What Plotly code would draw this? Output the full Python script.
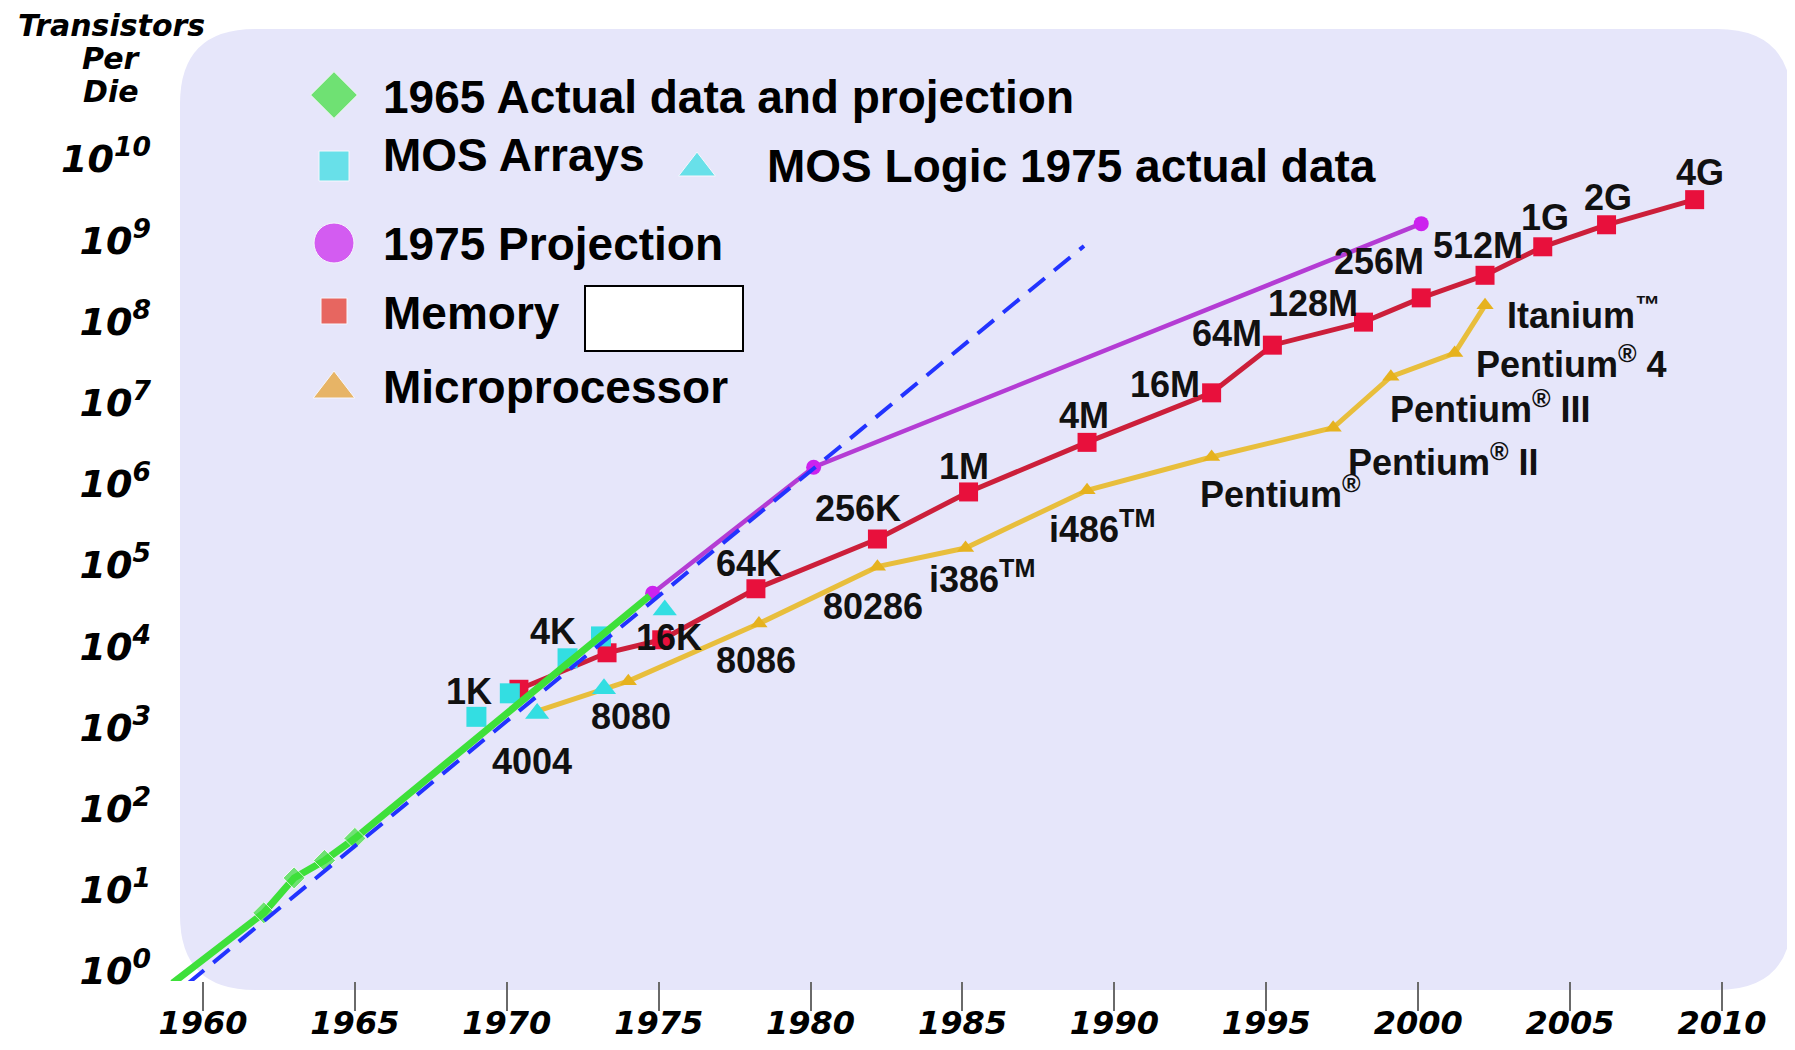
import math
import plotly.graph_objects as go

# ---------------- data ----------------
green_years = [1959.0, 1962.0, 1963.0, 1964.0, 1965.0, 1974.7]
green_counts = [0.71, 5.2, 14, 23, 43, 41700]
green_has_marker = [True, True, True, True, True, False]

trend_years = [1959.5, 1989.0]
trend_counts = [0.7, 8.5e8]

proj75_years = [1974.8, 1980.1, 2000.1]
proj75_counts = [45000, 1.6e6, 1.6e9]

mos_array_years = [1969.0, 1970.1, 1972.0, 1973.1]
mos_array_counts = [1350, 2630, 7100, 13200]

mos_logic_years = [1971.0, 1973.2, 1975.2]
mos_logic_counts = [1480, 3000, 28000]

memory_years = [1970.4, 1973.3, 1975.1, 1978.2, 1982.2, 1985.2, 1989.1, 1993.2,
                1995.2, 1998.2, 2000.1, 2002.2, 2004.1, 2006.2, 2009.1]
memory_counts = [2950, 8300, 12000, 51000, 209000, 794000, 3.24e6, 1.32e7,
                 5.1e7, 9.8e7, 1.95e8, 3.7e8, 8.3e8, 1.55e9, 3.16e9]
memory_labels = ["1K", "4K", "16K", "64K", "256K", "1M", "4M", "16M",
                 "64M", "128M", "256M", "512M", "1G", "2G", "4G"]

cpu_years = [1971.0, 1974.0, 1978.3, 1982.2, 1985.1, 1989.1, 1993.2, 1997.2,
             1999.1, 2001.2, 2002.2]
cpu_counts = [1585, 3715, 19000, 95500, 162000, 832000, 2.14e6, 4.9e6,
              2.09e7, 4.07e7, 1.58e8]
cpu_labels = ["4004", "8080", "8086", "80286", "i386<sup>TM</sup>", "i486<sup>TM</sup>",
              "Pentium<sup>®</sup>", "Pentium<sup>®</sup> II", "Pentium<sup>®</sup> III",
              "Pentium<sup>®</sup> 4", "Itanium<sup>™</sup>"]

x_tick_years = [1960, 1965, 1970, 1975, 1980, 1985, 1990, 1995, 2000, 2005, 2010]
y_tick_powers = [0, 1, 2, 3, 4, 5, 6, 7, 8, 9, 10]

legend_texts = ["1965 Actual data and projection", "MOS Arrays",
                "MOS Logic 1975 actual data", "1975 Projection", "Memory",
                "Microprocessor"]
y_title_lines = ["Transistors", "Per", "Die"]

# ---------------- layout / style ----------------
OFF = 8                      # page body margin
W, H = 1795 - 2 * OFF, 1050 - 2 * OFF
# plot area in viewport pixels
PX_L, PX_R, PX_T, PX_B = 160, 1785, 30, 981
X_RANGE = [1958.585, 2012.074]
Y_RANGE = [-0.123, 11.589]


def px_x(X):
    return X_RANGE[0] + (X - PX_L) / (PX_R - PX_L) * (X_RANGE[1] - X_RANGE[0])


def px_logy(Y):
    return Y_RANGE[1] - (Y - PX_T) / (PX_B - PX_T) * (Y_RANGE[1] - Y_RANGE[0])


def paper_x(X):
    return (X - PX_L) / (PX_R - PX_L)


def paper_y(Y):
    return (PX_B - Y) / (PX_B - PX_T)


GREEN = "#3EE03A"
CYAN = "#33DEE2"
PURPLE_LINE = "#B43CD4"
PURPLE_MK = "#CC22EE"
RED_LINE = "#CC1F3A"
RED_MK = "#E8103C"
GOLD_LINE = "#E8BE3C"
GOLD_MK = "#E6B21E"
ORANGE_LEG = "#E8A028"
BLUE = "#2233FF"
BOX = "#E6E6FA"

LABEL_FONT = dict(family="Liberation Sans, Arial, sans-serif", size=36,
                  color="#111111", weight="bold")
LEGEND_FONT = dict(family="Liberation Sans, Arial, sans-serif", size=46,
                   color="#000000", weight="bold")
AXIS_FONT = dict(family="DejaVu Sans, sans-serif", size=32, color="#000000",
                 weight="bold", style="italic")

memory_offsets = [(-50, 2), (-54, -21), (7, -2), (-7, -25), (-19, -31), (-5, -25),
                  (-3, -27), (-47, -8), (-45, -12), (-51, -19), (-42, -36),
                  (-7, -30), (2, -29), (1, -27), (5, -27)]
cpu_offsets = [(-5, 50, "center"), (3, 35, "center"), (-3, 37, "center"),
               (-4, 40, "center"), (16, 29, "center"), (15, 37, "center"),
               (-14, 35, "left"), (13, 32, "left"), (-3, 30, "left"),
               (19, 9, "left"), (20, 8, "left")]

fig = go.Figure()

fig.add_trace(go.Scatter(x=memory_years, y=memory_counts, mode="lines+markers",
                         line=dict(color=RED_LINE, width=5),
                         marker=dict(symbol="square", size=19, color=RED_MK),
                         showlegend=False, hoverinfo="skip"))
fig.add_trace(go.Scatter(x=cpu_years, y=cpu_counts, mode="lines+markers",
                         line=dict(color=GOLD_LINE, width=5),
                         marker=dict(symbol="triangle-up", size=15, color=GOLD_MK),
                         showlegend=False, hoverinfo="skip"))
fig.add_trace(go.Scatter(x=proj75_years, y=proj75_counts, mode="lines+markers",
                         line=dict(color=PURPLE_LINE, width=4.5),
                         marker=dict(symbol="circle", size=15, color=PURPLE_MK),
                         showlegend=False, hoverinfo="skip"))
fig.add_trace(go.Scatter(x=mos_array_years, y=mos_array_counts, mode="markers",
                         marker=dict(symbol="square", size=20, color=CYAN),
                         showlegend=False, hoverinfo="skip"))
fig.add_trace(go.Scatter(x=mos_logic_years, y=mos_logic_counts, mode="markers",
                         marker=dict(symbol="triangle-up", size=21, color=CYAN),
                         showlegend=False, hoverinfo="skip"))
fig.add_trace(go.Scatter(x=green_years, y=green_counts, mode="lines+markers",
                         line=dict(color=GREEN, width=7),
                         marker=dict(symbol="diamond", color=GREEN,
                                     size=[17 if m else 0 for m in green_has_marker]),
                         showlegend=False, hoverinfo="skip", cliponaxis=False))
fig.add_trace(go.Scatter(x=trend_years, y=trend_counts, mode="lines",
                         line=dict(color=BLUE, width=4, dash="21px,12px"),
                         showlegend=False, hoverinfo="skip"))

# custom legend symbols (viewport pixel positions)
leg_sym = [
    (334, 95, "diamond", 36, GREEN),
    (334, 166, "square", 30, CYAN),
    (697, 168, "triangle-up", 32, CYAN),
    (334, 243, "circle", 40, PURPLE_MK),
    (334, 311, "square", 26, "#E83020"),
    (334, 389, "triangle-up", 36, ORANGE_LEG),
]
fig.add_trace(go.Scatter(x=[px_x(s[0]) for s in leg_sym],
                         y=[10 ** px_logy(s[1]) for s in leg_sym],
                         mode="markers",
                         marker=dict(symbol=[s[2] for s in leg_sym],
                                     size=[s[3] for s in leg_sym],
                                     color=[s[4] for s in leg_sym]),
                         showlegend=False, hoverinfo="skip", cliponaxis=False))

annotations = []
for yr, c, lab, (dx, dy) in zip(memory_years, memory_counts, memory_labels, memory_offsets):
    annotations.append(dict(x=yr, y=math.log10(c), xref="x", yref="y", text=lab,
                            showarrow=False, xanchor="center", yanchor="middle",
                            xshift=dx, yshift=-dy, font=LABEL_FONT))
for yr, c, lab, (dx, dy, anc) in zip(cpu_years, cpu_counts, cpu_labels, cpu_offsets):
    annotations.append(dict(x=yr, y=math.log10(c), xref="x", yref="y", text=lab,
                            showarrow=False, xanchor=anc, yanchor="middle",
                            xshift=dx, yshift=-dy, font=LABEL_FONT))

leg_text_pos = [(381, 97), (381, 155), (765, 166), (381, 244), (381, 313), (381, 387)]
for txt, (X, Y) in zip(legend_texts, leg_text_pos):
    annotations.append(dict(x=paper_x(X), y=paper_y(Y), xref="paper", yref="paper",
                            text=txt, showarrow=False, xanchor="left",
                            yanchor="middle", font=LEGEND_FONT))

for txt, Y in zip(y_title_lines, [25, 58, 91]):
    annotations.append(dict(x=paper_x(111), y=paper_y(Y), xref="paper", yref="paper",
                            text=txt, showarrow=False, xanchor="center",
                            yanchor="middle",
                            font=dict(family="DejaVu Sans, sans-serif", size=30,
                                      color="#000000", weight="bold", style="italic")))


def rounded_rect(X0, Y0, X1, Y1, r):
    x0, x1 = paper_x(X0), paper_x(X1)
    y0, y1 = paper_y(Y1), paper_y(Y0)
    rx = r / (PX_R - PX_L)
    ry = r / (PX_B - PX_T)
    return (f"M {x0 + rx},{y1} L {x1 - rx},{y1} Q {x1},{y1} {x1},{y1 - ry} "
            f"L {x1},{y0 + ry} Q {x1},{y0} {x1 - rx},{y0} "
            f"L {x0 + rx},{y0} Q {x0},{y0} {x0},{y0 + ry} "
            f"L {x0},{y1 - ry} Q {x0},{y1} {x0 + rx},{y1} Z")


shapes = [
    dict(type="path", xref="paper", yref="paper", layer="below",
         path=rounded_rect(180, 29, 1792, 990, 75), fillcolor=BOX,
         line=dict(width=0)),
    dict(type="rect", xref="paper", yref="paper", layer="above",
         x0=paper_x(585), x1=paper_x(743), y0=paper_y(351), y1=paper_y(286),
         fillcolor="#FFFFFF", line=dict(color="#000000", width=2)),
]

fig.update_layout(
    width=W, height=H,
    margin=dict(l=PX_L - OFF, r=(OFF + W) - PX_R, t=PX_T - OFF, b=(OFF + H) - PX_B,
                autoexpand=False),
    paper_bgcolor="#FFFFFF", plot_bgcolor="rgba(0,0,0,0)",
    showlegend=False,
    annotations=annotations, shapes=shapes,
    xaxis=dict(range=X_RANGE, tickvals=x_tick_years,
               ticktext=[str(v) for v in x_tick_years],
               ticks="outside", ticklen=29, tickwidth=2, tickcolor="#6A6A6A",
               showgrid=False, zeroline=False, showline=False, automargin=False,
               ticklabelstandoff=-15, tickfont=AXIS_FONT),
    yaxis=dict(type="log", range=Y_RANGE,
               tickvals=[10 ** p for p in y_tick_powers],
               ticktext=["10<sup>%d</sup>" % p for p in y_tick_powers],
               ticks="", showgrid=False, zeroline=False, showline=False,
               automargin=False, ticklabelstandoff=8,
               tickfont=dict(family="DejaVu Sans, sans-serif", size=38,
                             color="#000000", weight="bold", style="italic")),
)

fig.write_html("out.html")
